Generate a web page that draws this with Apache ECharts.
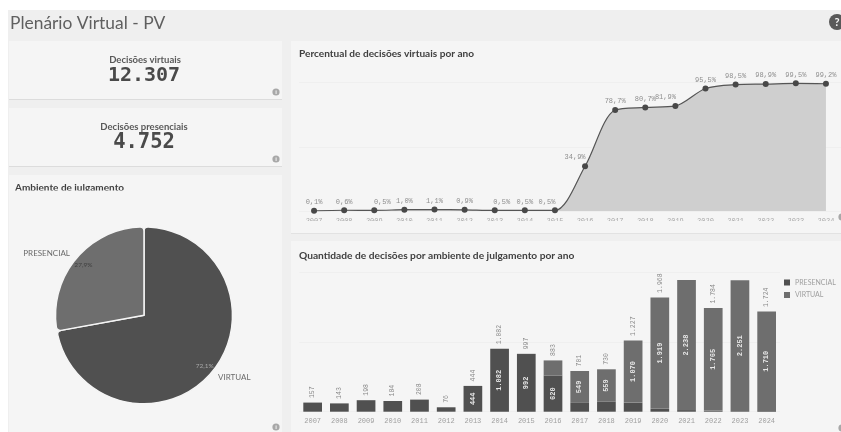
<!DOCTYPE html>
<html><head><meta charset="utf-8">
<style>html,body{margin:0;padding:0;background:#fff}#c{width:841px;height:432px;filter:blur(0.45px)}</style>
<script src="https://cdn.jsdelivr.net/npm/echarts@6/dist/echarts.min.js"></script>
</head><body><div id="c"></div>
<script>
const years = ['2007','2008','2009','2010','2011','2012','2013','2014','2015','2016','2017','2018','2019','2020','2021','2022','2023','2024'];
const percentVirtual = [0.1,0.6,0.5,1.0,1.1,0.9,0.5,0.5,0.5,34.9,78.7,80.7,81.9,95.5,98.5,98.9,99.5,99.2];
const presencial = [157,143,198,184,208,76,444,1082,992,620,152,171,157,49,28,19,11,14];
const virtual = [0,0,0,0,0,0,0,0,5,263,549,559,1070,1919,2238,1765,2251,1710];
const totals = [157,143,198,184,208,76,444,1082,997,883,701,730,1227,1968,null,1784,null,1724];
const pieData = [{name:'VIRTUAL',value:12307},{name:'PRESENCIAL',value:4752}];
const kpiVirtual = '12.307', kpiPresencial = '4.752';

const DARK='#505050', MID='#6e6e6e', PANEL='#f5f5f5', BG='#efefef';
const MONO='"Liberation Mono","DejaVu Sans Mono",monospace', KPI='"DejaVu Sans Mono",monospace', SANS='Lato,"Open Sans",sans-serif';
const br = v => v>=1000 ? String(v).replace(/(\d)(\d{3})$/,'$1.$2') : String(v);
const pct = v => v.toFixed(1).replace('.',',')+'%';
const nudge = {2:[8,0],6:[7,0],8:[-8,0],9:[-10,-1],12:[-10,0]};

const rect=(x,y,w,h,fill,z)=>({type:'rect',shape:{x,y,width:w,height:h},style:{fill},z:z||0,silent:true});
const info=(x,y)=>[{type:'circle',shape:{cx:x,cy:y,r:3.6},style:{fill:'#a8a8a8'},z:1,silent:true},
 {type:'text',style:{x,y,text:'i',fill:'#f5f5f5',font:'bold 6px sans-serif',align:'center',verticalAlign:'middle'},z:2,silent:true}];
const text=(x,y,t,font,fill,align)=>({type:'text',style:{x,y,text:t,font,fill,align:align||'center',verticalAlign:'middle'},z:3,silent:true});

const chart=echarts.init(document.getElementById('c'),null,{renderer:'canvas'});
chart.setOption({
 animation:false,
 backgroundColor:'#ffffff',
 graphic:{elements:[
  rect(8,10,833,422,BG,-5),
  rect(9,41,273,58,PANEL,-4), rect(9,99,273,1,'#dcdcdc',-4),
  rect(9,108,273,58,PANEL,-4), rect(9,166,273,1,'#dcdcdc',-4),
  rect(9,175,273,257,PANEL,-4),
  rect(291,41,550,192,PANEL,-4), rect(291,233,550,1,'#e2e2e2',-4),
  rect(291,241,550,191,PANEL,-4),
  rect(9,190.5,273,12,PANEL,50),
  rect(291,221,550,11.5,PANEL,50),
  ...info(276,92),...info(276,159),...info(276,427),...info(842,217),...info(842,428),
  {type:'circle',shape:{cx:837,cy:22,r:8},style:{fill:'#595959'},z:3,silent:true},
  text(837,22,'?','bold 11px '+SANS,'#f5f5f5'),
  text(10,23,'Plenário Virtual - PV','normal 17.4px '+SANS,'#5f5f5f','left'),
  text(145,60,'Decisões virtuais','bold 9.5px '+SANS,'#595959'),
  text(144,76,kpiVirtual,'bold 20px '+KPI,'#4a4a4a'),
  text(144,127,'Decisões presenciais','bold 9.5px '+SANS,'#595959'),
  text(144,143,kpiPresencial,'bold 20.5px '+KPI,'#4a4a4a'),
  text(15,188,'Ambiente de julgamento','bold 10px '+SANS,'#404040','left'),
  text(299,54,'Percentual de decisões virtuais por ano','bold 10.1px '+SANS,'#404040','left'),
  text(299,256,'Quantidade de decisões por ambiente de julgamento por ano','bold 10.2px '+SANS,'#404040','left')
 ]},
 legend:{show:true,data:['PRESENCIAL','VIRTUAL'],orient:'vertical',left:784,top:279,itemWidth:6,itemHeight:6,itemGap:5.5,icon:'rect',padding:0,
  textStyle:{color:'#a0a0a0',fontSize:7,fontFamily:SANS}},
 grid:[
  {left:299,top:82.7,width:542,height:128.3},
  {left:299.3,top:272.3,width:480.7,height:139.4}
 ],
 xAxis:[
  {type:'category',gridIndex:0,data:years,boundaryGap:true,axisLine:{show:false},axisTick:{show:false},
   axisLabel:{color:'#a8a8a8',fontSize:7,fontFamily:MONO,margin:7,interval:0}},
  {type:'category',gridIndex:1,data:years,axisLine:{show:false},axisTick:{show:false},
   axisLabel:{color:'#a0a0a0',fontSize:7,fontFamily:MONO,margin:6,interval:0}}
 ],
 yAxis:[
  {type:'value',gridIndex:0,min:0,max:100,interval:50,axisLabel:{show:false},axisLine:{show:false},axisTick:{show:false},
   splitLine:{lineStyle:{color:'#efefef',width:1}}},
  {type:'value',gridIndex:1,min:0,max:2400,interval:1200,axisLabel:{show:false},axisLine:{show:false},axisTick:{show:false},
   splitLine:{lineStyle:{color:'#efefef',width:1}}}
 ],
 series:[
  {type:'line',xAxisIndex:0,yAxisIndex:0,smooth:0.3,symbol:'circle',symbolSize:6,
   lineStyle:{color:'#555555',width:1.2},itemStyle:{color:'#484848'},areaStyle:{color:'#cfcfcf',opacity:1},
   data:percentVirtual.map((v,i)=>({value:v,label:{offset:nudge[i]||[0,0]}})),
   label:{show:true,position:'top',distance:2,fontFamily:MONO,fontSize:7,color:'#8e8e8e',formatter:p=>pct(p.value)}},
  {name:'PRESENCIAL',type:'bar',stack:'a',xAxisIndex:1,yAxisIndex:1,barWidth:18.7,data:presencial,
   itemStyle:{color:DARK},
   label:{show:true,position:'inside',rotate:90,fontFamily:MONO,fontSize:7,fontWeight:'bold',color:'#e8e8e8',formatter:p=>p.value>=400?br(p.value):''}},
  {name:'VIRTUAL',type:'bar',stack:'a',xAxisIndex:1,yAxisIndex:1,barWidth:18.7,data:virtual,
   itemStyle:{color:MID},
   label:{show:true,position:'inside',rotate:90,fontFamily:MONO,fontSize:7,fontWeight:'bold',color:'#e8e8e8',formatter:p=>p.value>=400?br(p.value):''}},
  {type:'line',xAxisIndex:1,yAxisIndex:1,data:totals,symbol:'circle',symbolSize:1,showSymbol:true,showAllSymbol:true,itemStyle:{color:'transparent'},lineStyle:{opacity:0},
   label:{show:true,position:'top',distance:4,rotate:90,align:'left',verticalAlign:'middle',fontFamily:MONO,fontSize:6.5,color:'#8a8a8a',formatter:p=>br(p.value)}},
  {type:'pie',center:[144,315.3],radius:[0,88.5],startAngle:90,clockwise:true,silent:true,data:pieData,
   itemStyle:{borderColor:'#f5f5f5',borderWidth:1.5,borderRadius:4},
   color:[DARK,MID],
   label:{show:true,position:'outer',distanceToLabelLine:0,formatter:'{b}',fontFamily:SANS,fontSize:8,color:'#6a6a6a'},
   labelLine:{show:false,length:8,length2:0}},
  {type:'pie',center:[144,315.3],radius:[0,152],startAngle:90,clockwise:true,silent:true,
   data:pieData.map((d,i)=>({...d,label:{color:i?'#3f3f3f':'#a8a8a8'}})),
   itemStyle:{color:'transparent'},
   label:{show:true,position:'inner',formatter:p=>pct(p.percent),fontFamily:SANS,fontSize:6.5},labelLine:{show:false},z:5}
 ]
});
</script></body></html>
